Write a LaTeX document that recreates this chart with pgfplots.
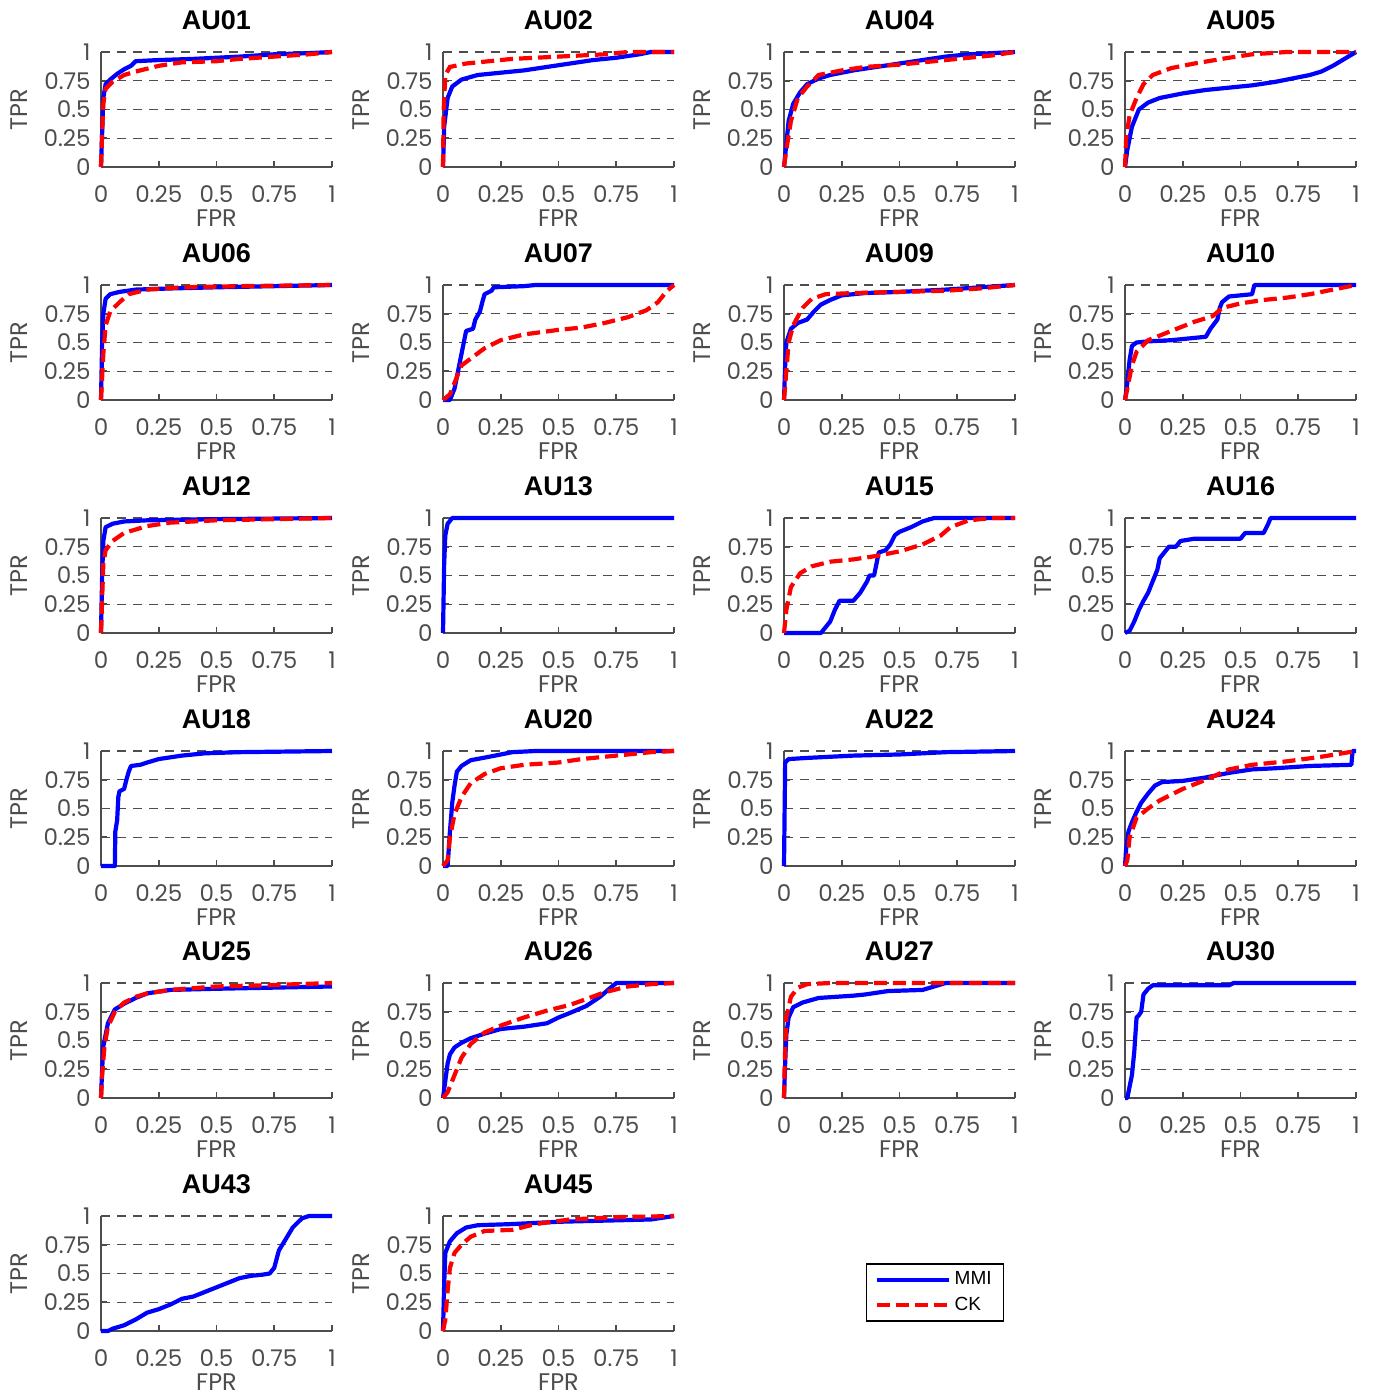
\documentclass[border=0pt]{standalone}
\usepackage{fontspec}
\setmainfont{Poppins}
\newfontfamily\titlefont{Liberation Sans}
\newfontfamily\legendfont{Liberation Sans}
\usepackage{pgfplots}
\pgfplotsset{compat=1.18}
\definecolor{axgray}{RGB}{77,77,77}
\pgfplotsset{
  rocstyle/.style={
    scale only axis, width=115.5pt, height=57.5pt, anchor=south west,
    xmin=0, xmax=1, ymin=0, ymax=1, clip=false,
    axis x line=bottom, axis y line=left,
    axis line style={-, draw=axgray, line width=1pt},
    xtick={0,0.25,0.5,0.75,1}, ytick={0,0.25,0.5,0.75,1},
    xticklabels={0,0.25,0.5,0.75,1}, yticklabels={0,0.25,0.5,0.75,1},
    /pgf/number format/assume math mode=true,
    ymajorgrids, grid style={draw=axgray, line width=0.6pt, dash pattern=on 4.5pt off 3.5pt},
    tick align=inside, major tick length=3pt, tick style={draw=axgray, line width=0.8pt},
    ticklabel style={font=\fontsize{11.5}{13}\selectfont, text=axgray},
    xticklabel style={anchor=base, inner sep=0pt, yshift=-17.5pt},
    yticklabel style={anchor=east, inner sep=0pt, xshift=-5pt},
    xlabel={FPR}, ylabel={TPR},
    label style={font=\fontsize{12}{14}\selectfont, text=axgray},
    xlabel style={at={(axis description cs:0.5,-0.52)}, anchor=base, inner sep=0pt},
    ylabel style={at={(axis description cs:-0.355,0.5)}, anchor=center, inner sep=0pt},
    title style={at={(axis description cs:0.5,1.095)}, anchor=base, inner sep=0pt,
      font=\titlefont\bfseries\fontsize{13.5}{15}\selectfont},
  },
  mmi/.style={color={rgb,1:red,0;green,0;blue,1}, line width=2.1pt, line join=round},
  ck/.style={color={rgb,1:red,1;green,0;blue,0}, line width=2.1pt, dash pattern=on 6.5pt off 3pt},
}
\begin{document}
\begin{tikzpicture}
\useasboundingbox (0pt,0pt) rectangle (687.5pt,-698.5pt);
% ---------------- row 1
\begin{axis}[rocstyle, at={(50.5pt,-83.5pt)}, title={AU01}]
\addplot[mmi] coordinates {(0,0)(0.005,0.3)(0.01,0.6)(0.02,0.72)(0.04,0.76)(0.07,0.81)(0.1,0.85)(0.13,0.88)(0.15,0.92)(0.25,0.93)(0.4,0.94)(0.6,0.96)(0.75,0.98)(0.9,0.99)(1,1)};
\addplot[ck] coordinates {(0,0)(0.005,0.3)(0.01,0.55)(0.02,0.68)(0.05,0.74)(0.1,0.8)(0.15,0.83)(0.25,0.88)(0.35,0.91)(0.5,0.92)(0.6,0.94)(0.75,0.96)(0.9,0.98)(1,1)};
\end{axis}
\begin{axis}[rocstyle, at={(221.5pt,-83.5pt)}, title={AU02}]
\addplot[mmi] coordinates {(0,0)(0.005,0.35)(0.02,0.6)(0.04,0.7)(0.08,0.76)(0.15,0.8)(0.25,0.82)(0.35,0.84)(0.45,0.87)(0.55,0.9)(0.65,0.93)(0.75,0.95)(0.85,0.98)(0.9,1)(1,1)};
\addplot[ck] coordinates {(0,0)(0.003,0.5)(0.01,0.8)(0.03,0.87)(0.1,0.9)(0.2,0.92)(0.3,0.94)(0.5,0.96)(0.7,0.98)(0.8,1)(1,1)};
\end{axis}
\begin{axis}[rocstyle, at={(392pt,-83.5pt)}, title={AU04}]
\addplot[mmi] coordinates {(0,0)(0.01,0.2)(0.02,0.4)(0.04,0.55)(0.07,0.65)(0.1,0.72)(0.15,0.77)(0.2,0.8)(0.3,0.84)(0.4,0.87)(0.5,0.9)(0.6,0.93)(0.7,0.96)(0.8,0.98)(0.9,0.99)(1,1)};
\addplot[ck] coordinates {(0,0)(0.01,0.15)(0.03,0.4)(0.06,0.6)(0.1,0.7)(0.15,0.8)(0.25,0.84)(0.35,0.87)(0.5,0.89)(0.6,0.91)(0.7,0.93)(0.8,0.95)(0.9,0.97)(1,1)};
\end{axis}
\begin{axis}[rocstyle, at={(562.5pt,-83.5pt)}, title={AU05}]
\addplot[mmi] coordinates {(0,0)(0.01,0.15)(0.03,0.35)(0.06,0.5)(0.1,0.56)(0.15,0.6)(0.25,0.64)(0.35,0.67)(0.45,0.69)(0.55,0.71)(0.65,0.74)(0.75,0.78)(0.8,0.8)(0.85,0.83)(0.9,0.88)(0.95,0.94)(1,1)};
\addplot[ck] coordinates {(0,0)(0.005,0.25)(0.02,0.45)(0.05,0.6)(0.08,0.72)(0.12,0.8)(0.2,0.86)(0.3,0.9)(0.45,0.95)(0.55,0.98)(0.7,1)(1,1)};
\end{axis}
% ---------------- row 2
\begin{axis}[rocstyle, at={(50.5pt,-200pt)}, title={AU06}]
\addplot[mmi] coordinates {(0,0)(0.005,0.5)(0.01,0.75)(0.02,0.88)(0.04,0.92)(0.08,0.94)(0.15,0.96)(0.3,0.97)(0.5,0.98)(0.75,0.99)(1,1)};
\addplot[ck] coordinates {(0,0)(0.01,0.4)(0.02,0.65)(0.04,0.77)(0.08,0.85)(0.12,0.92)(0.2,0.96)(0.35,0.98)(0.6,0.99)(1,1)};
\end{axis}
\begin{axis}[rocstyle, at={(221.5pt,-200pt)}, title={AU07}]
\addplot[mmi] coordinates {(0,0)(0.03,0)(0.05,0.1)(0.07,0.3)(0.09,0.5)(0.1,0.6)(0.13,0.62)(0.14,0.7)(0.16,0.77)(0.17,0.85)(0.18,0.92)(0.21,0.95)(0.22,0.98)(0.35,0.99)(0.4,1)(1,1)};
\addplot[ck] coordinates {(0,0)(0.03,0.05)(0.06,0.2)(0.08,0.3)(0.12,0.36)(0.18,0.45)(0.25,0.52)(0.35,0.57)(0.5,0.61)(0.6,0.63)(0.7,0.67)(0.8,0.72)(0.88,0.78)(0.93,0.85)(0.97,0.95)(1,1)};
\end{axis}
\begin{axis}[rocstyle, at={(392pt,-200pt)}, title={AU09}]
\addplot[mmi] coordinates {(0,0)(0.005,0.3)(0.01,0.5)(0.03,0.62)(0.06,0.67)(0.1,0.7)(0.13,0.77)(0.16,0.83)(0.2,0.87)(0.25,0.91)(0.35,0.93)(0.5,0.94)(0.7,0.96)(0.85,0.98)(1,1)};
\addplot[ck] coordinates {(0,0)(0.01,0.25)(0.02,0.5)(0.04,0.65)(0.08,0.8)(0.12,0.88)(0.18,0.92)(0.3,0.93)(0.5,0.94)(0.7,0.95)(0.85,0.97)(1,1)};
\end{axis}
\begin{axis}[rocstyle, at={(562.5pt,-200pt)}, title={AU10}]
\addplot[mmi] coordinates {(0,0)(0.01,0.15)(0.02,0.35)(0.03,0.47)(0.05,0.5)(0.1,0.51)(0.2,0.52)(0.3,0.54)(0.35,0.55)(0.37,0.62)(0.4,0.7)(0.41,0.8)(0.42,0.85)(0.45,0.9)(0.55,0.92)(0.56,1)(1,1)};
\addplot[ck] coordinates {(0,0)(0.01,0.1)(0.03,0.3)(0.05,0.42)(0.1,0.52)(0.15,0.56)(0.2,0.6)(0.3,0.68)(0.38,0.73)(0.42,0.8)(0.5,0.84)(0.6,0.87)(0.7,0.89)(0.8,0.92)(0.9,0.96)(1,1)};
\end{axis}
% ---------------- row 3
\begin{axis}[rocstyle, at={(50.5pt,-316.5pt)}, title={AU12}]
\addplot[mmi] coordinates {(0,0)(0.005,0.5)(0.01,0.8)(0.02,0.92)(0.05,0.95)(0.1,0.97)(0.2,0.98)(0.5,0.99)(1,1)};
\addplot[ck] coordinates {(0,0)(0.005,0.3)(0.01,0.6)(0.02,0.72)(0.05,0.8)(0.1,0.87)(0.2,0.93)(0.3,0.96)(0.5,0.98)(1,1)};
\end{axis}
\begin{axis}[rocstyle, at={(221.5pt,-316.5pt)}, title={AU13}]
\addplot[mmi] coordinates {(0,0)(0.005,0.6)(0.01,0.85)(0.02,0.95)(0.04,1)(1,1)};
\end{axis}
\begin{axis}[rocstyle, at={(392pt,-316.5pt)}, title={AU15}]
\addplot[mmi] coordinates {(0,0)(0.16,0)(0.18,0.05)(0.2,0.1)(0.22,0.2)(0.24,0.28)(0.3,0.28)(0.33,0.35)(0.36,0.45)(0.37,0.5)(0.39,0.5)(0.4,0.6)(0.41,0.7)(0.44,0.72)(0.46,0.77)(0.48,0.85)(0.5,0.88)(0.55,0.92)(0.6,0.97)(0.65,1)(1,1)};
\addplot[ck] coordinates {(0,0)(0.01,0.2)(0.03,0.4)(0.07,0.52)(0.12,0.58)(0.2,0.62)(0.3,0.64)(0.4,0.67)(0.5,0.71)(0.6,0.77)(0.68,0.85)(0.72,0.92)(0.8,0.98)(0.9,1)(1,1)};
\end{axis}
\begin{axis}[rocstyle, at={(562.5pt,-316.5pt)}, title={AU16}]
\addplot[mmi] coordinates {(0,0)(0.02,0.02)(0.04,0.1)(0.06,0.2)(0.08,0.28)(0.1,0.35)(0.12,0.45)(0.14,0.55)(0.15,0.65)(0.17,0.7)(0.19,0.75)(0.22,0.75)(0.24,0.8)(0.3,0.82)(0.5,0.82)(0.52,0.87)(0.6,0.87)(0.62,0.95)(0.63,1)(1,1)};
\end{axis}
% ---------------- row 4
\begin{axis}[rocstyle, at={(50.5pt,-433pt)}, title={AU18}]
\addplot[mmi] coordinates {(0,0)(0.06,0)(0.062,0.3)(0.07,0.4)(0.075,0.6)(0.08,0.65)(0.1,0.67)(0.11,0.75)(0.12,0.82)(0.13,0.87)(0.17,0.88)(0.2,0.9)(0.25,0.93)(0.35,0.96)(0.45,0.98)(0.6,0.99)(1,1)};
\end{axis}
\begin{axis}[rocstyle, at={(221.5pt,-433pt)}, title={AU20}]
\addplot[mmi] coordinates {(0,0)(0.02,0)(0.03,0.3)(0.04,0.55)(0.05,0.7)(0.06,0.82)(0.08,0.87)(0.12,0.92)(0.2,0.95)(0.3,0.99)(0.4,1)(1,1)};
\addplot[ck] coordinates {(0,0)(0.02,0.05)(0.03,0.25)(0.05,0.45)(0.08,0.6)(0.12,0.72)(0.18,0.8)(0.25,0.85)(0.35,0.88)(0.5,0.9)(0.6,0.93)(0.75,0.96)(0.9,0.99)(1,1)};
\end{axis}
\begin{axis}[rocstyle, at={(392pt,-433pt)}, title={AU22}]
\addplot[mmi] coordinates {(0,0)(0.005,0.9)(0.02,0.93)(0.1,0.94)(0.3,0.96)(0.5,0.97)(0.6,0.98)(0.7,0.99)(1,1)};
\end{axis}
\begin{axis}[rocstyle, at={(562.5pt,-433pt)}, title={AU24}]
\addplot[mmi] coordinates {(0,0)(0.005,0.15)(0.015,0.3)(0.03,0.38)(0.05,0.47)(0.07,0.55)(0.1,0.63)(0.13,0.7)(0.16,0.73)(0.25,0.74)(0.35,0.77)(0.45,0.81)(0.55,0.84)(0.65,0.85)(0.8,0.87)(0.98,0.88)(0.985,1)(1,1)};
\addplot[ck] coordinates {(0,0)(0.01,0.05)(0.02,0.25)(0.05,0.42)(0.1,0.5)(0.15,0.57)(0.25,0.67)(0.35,0.75)(0.45,0.84)(0.55,0.88)(0.7,0.91)(0.85,0.95)(0.97,0.99)(1,1)};
\end{axis}
% ---------------- row 5
\begin{axis}[rocstyle, at={(50.5pt,-549pt)}, title={AU25}]
\addplot[mmi] coordinates {(0,0)(0.005,0.25)(0.01,0.45)(0.03,0.65)(0.06,0.77)(0.1,0.82)(0.15,0.87)(0.2,0.91)(0.3,0.94)(0.5,0.95)(0.75,0.96)(1,0.97)};
\addplot[ck] coordinates {(0,0)(0.005,0.2)(0.015,0.45)(0.03,0.62)(0.06,0.75)(0.1,0.83)(0.15,0.88)(0.2,0.91)(0.3,0.94)(0.5,0.97)(0.7,0.98)(0.85,0.99)(1,1)};
\end{axis}
\begin{axis}[rocstyle, at={(221.5pt,-549pt)}, title={AU26}]
\addplot[mmi] coordinates {(0,0)(0.01,0.15)(0.02,0.3)(0.03,0.38)(0.05,0.44)(0.08,0.48)(0.12,0.52)(0.18,0.56)(0.25,0.6)(0.35,0.62)(0.45,0.65)(0.5,0.7)(0.55,0.74)(0.62,0.8)(0.68,0.88)(0.72,0.95)(0.75,1)(1,1)};
\addplot[ck] coordinates {(0,0)(0.02,0.05)(0.05,0.2)(0.08,0.35)(0.12,0.47)(0.18,0.57)(0.25,0.63)(0.35,0.7)(0.45,0.76)(0.55,0.81)(0.62,0.86)(0.7,0.92)(0.8,0.97)(0.9,0.99)(1,1)};
\end{axis}
\begin{axis}[rocstyle, at={(392pt,-549pt)}, title={AU27}]
\addplot[mmi] coordinates {(0,0)(0.005,0.3)(0.01,0.55)(0.02,0.7)(0.04,0.79)(0.08,0.83)(0.15,0.87)(0.3,0.89)(0.35,0.9)(0.45,0.93)(0.6,0.94)(0.65,0.97)(0.7,1)(1,1)};
\addplot[ck] coordinates {(0,0)(0.003,0.3)(0.01,0.7)(0.03,0.88)(0.06,0.96)(0.1,0.99)(0.2,1)(1,1)};
\end{axis}
\begin{axis}[rocstyle, at={(562.5pt,-549pt)}, title={AU30}]
\addplot[mmi] coordinates {(0,0)(0.01,0)(0.03,0.2)(0.04,0.4)(0.05,0.7)(0.06,0.72)(0.07,0.75)(0.08,0.9)(0.1,0.95)(0.12,0.98)(0.45,0.98)(0.47,1)(1,1)};
\end{axis}
% ---------------- row 6
\begin{axis}[rocstyle, at={(50.5pt,-665.5pt)}, title={AU43}]
\addplot[mmi] coordinates {(0,0)(0.03,0)(0.05,0.02)(0.1,0.05)(0.15,0.1)(0.2,0.16)(0.25,0.19)(0.3,0.23)(0.35,0.28)(0.4,0.3)(0.45,0.34)(0.5,0.38)(0.55,0.42)(0.6,0.46)(0.65,0.48)(0.7,0.49)(0.73,0.5)(0.75,0.55)(0.77,0.7)(0.8,0.8)(0.83,0.9)(0.87,0.98)(0.9,1)(1,1)};
\end{axis}
\begin{axis}[rocstyle, at={(221.5pt,-665.5pt)}, title={AU45},
  legend style={at={(axis description cs:2.13,0.335)}, anchor=center, draw=black, line width=0.8pt,
    font=\legendfont\fontsize{9.5}{11}\selectfont, inner xsep=4pt, inner ysep=2pt, row sep=0.5pt},
  legend cell align=left,
  legend image code/.code={\draw[#1] (0pt,0pt) -- (36pt,0pt);}]
\addplot[mmi] coordinates {(0,0)(0.005,0.4)(0.01,0.68)(0.03,0.78)(0.06,0.85)(0.1,0.9)(0.15,0.92)(0.3,0.93)(0.5,0.95)(0.7,0.96)(0.9,0.97)(1,1)};
\addlegendentry{MMI}
\addplot[ck] coordinates {(0,0)(0.01,0.1)(0.02,0.35)(0.03,0.55)(0.05,0.68)(0.08,0.75)(0.12,0.82)(0.18,0.87)(0.3,0.88)(0.4,0.93)(0.55,0.97)(0.75,0.99)(1,1)};
\addlegendentry{CK}
\end{axis}
\end{tikzpicture}
\end{document}
